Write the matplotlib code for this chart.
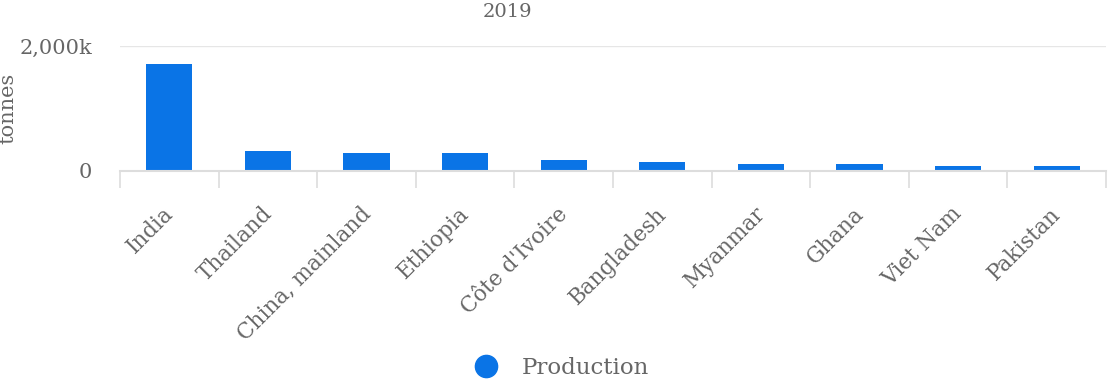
import numpy as np
import matplotlib as mpl
import matplotlib.pyplot as plt
import matplotlib.transforms as mtransforms
from matplotlib.ticker import FixedLocator, FuncFormatter
from matplotlib.lines import Line2D

mpl.rcParams['font.family'] = 'DejaVu Serif'

# production by country, thousand tonnes
countries = ['India', 'Thailand', 'China, mainland', 'Ethiopia', "Côte d'Ivoire",
             'Bangladesh', 'Myanmar', 'Ghana', 'Viet Nam', 'Pakistan']
production = [1710, 320, 290, 290, 170, 140, 110, 110, 80, 75]
year = '2019'

bar_color = '#0a74e6'
text_color = '#666666'
line_color = '#dddddd'

fig = plt.figure(figsize=(11.08, 3.8), dpi=100)
ax = fig.add_axes((120 / 1108, 209 / 380, 986 / 1108, 125 / 380))

x = np.arange(len(countries))
ax.bar(x, production, width=0.47, color=bar_color, zorder=3)

ax.set_xlim(-0.5, len(countries) - 0.5)
ax.set_ylim(0, 2000)

ax.yaxis.set_major_locator(FixedLocator([0, 2000]))
ax.yaxis.set_major_formatter(FuncFormatter(lambda v, p: '0' if v == 0 else f'{int(v):,}k'))
ax.tick_params(axis='y', length=0, pad=20, labelsize=15, labelcolor=text_color)
ax.grid(axis='y', color='#e6e6e6', linewidth=1, zorder=0)

# category labels at the centres, tick marks between categories
ax.set_xticks(x)
ax.set_xticklabels(countries, rotation=45, ha='right', rotation_mode='anchor')
ax.tick_params(axis='x', which='major', length=0, pad=23, labelsize=15.5, labelcolor=text_color)
ax.set_xticks(np.arange(-0.5, len(countries)), minor=True)
ax.tick_params(axis='x', which='minor', length=12, width=1.2, color=line_color, direction='out')

# nudge the rotated labels a little to the left
shift = mtransforms.ScaledTranslation(-7 / 100, 0, fig.dpi_scale_trans)
for lbl in ax.get_xticklabels():
    lbl.set_transform(lbl.get_transform() + shift)

for s in ['top', 'right', 'left']:
    ax.spines[s].set_visible(False)
ax.spines['bottom'].set_color(line_color)
ax.spines['bottom'].set_linewidth(1.5)
ax.spines['bottom'].set_zorder(4)

fig.text(8 / 1108, 1 - 108 / 380, 'tonnes', rotation=90, ha='center', va='center',
         fontsize=15, color=text_color)
fig.text(508 / 1108, 1 - 12 / 380, year, ha='center', va='center', fontsize=14,
         color=text_color)

handle = Line2D([], [], marker='o', linestyle='', markersize=16, color=bar_color)
fig.legend([handle], ['Production'], loc='center', bbox_to_anchor=(556 / 1108, 1 - 368 / 380),
           frameon=False, fontsize=16.5, labelcolor=text_color, handletextpad=0.6)

fig.savefig('out.png', dpi=100)
